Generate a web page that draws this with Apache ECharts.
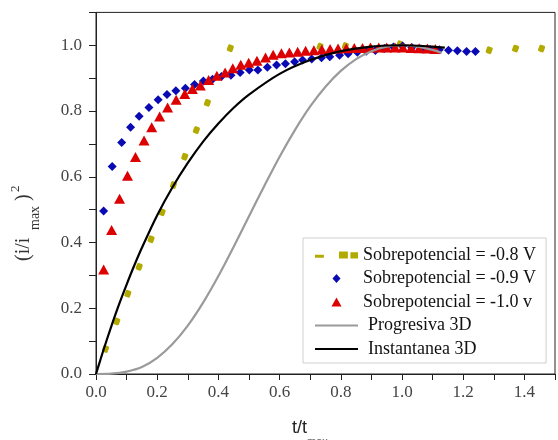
<!DOCTYPE html>
<html><head><meta charset="utf-8">
<script src="https://cdn.jsdelivr.net/npm/echarts@6/dist/echarts.min.js"></script>
<style>html,body{margin:0;padding:0;background:#fff}#c{width:558px;height:440px}</style>
</head><body><div id="c"></div>
<script>
// ---- data ----
const seriesNames = ['Sobrepotencial = -0.8 V', 'Sobrepotencial = -0.9 V', 'Sobrepotencial = -1.0 v', 'Progresiva 3D', 'Instantanea 3D'];
const xTickLabels = ['0.0','0.2','0.4','0.6','0.8','1.0','1.2','1.4'];
const yTickLabels = ['0.0','0.2','0.4','0.6','0.8','1.0'];

const sobre08 = [[0.031,0.076],[0.068,0.160],[0.104,0.244],[0.141,0.326],[0.180,0.410],[0.216,0.492],[0.253,0.575],[0.290,0.661],[0.328,0.742],[0.364,0.825],[0.439,0.991],[0.732,0.996],[0.815,0.998],[0.993,1.003],[1.285,0.985],[1.371,0.990],[1.456,0.990]];

const sobre09 = [[0.025,0.496],[0.053,0.631],[0.084,0.704],[0.113,0.751],[0.141,0.784],[0.173,0.811],[0.203,0.834],[0.232,0.850],[0.261,0.862],[0.292,0.869],[0.322,0.881],[0.351,0.891],[0.381,0.897],[0.410,0.905],[0.441,0.909],[0.471,0.917],[0.501,0.925],[0.529,0.925],[0.560,0.933],[0.590,0.940],[0.619,0.944],[0.649,0.950],[0.675,0.955],[0.705,0.958],[0.737,0.962],[0.764,0.965],[0.796,0.970],[0.824,0.974],[0.854,0.979],[0.883,0.982],[0.913,0.984],[0.943,0.990],[0.972,0.995],[1.002,0.998],[1.032,0.993],[1.062,0.989],[1.092,0.987],[1.122,0.986],[1.152,0.985],[1.181,0.983],[1.211,0.981],[1.240,0.981]];

const sobre10 = [[0.025,0.318],[0.051,0.438],[0.077,0.533],[0.103,0.603],[0.129,0.660],[0.157,0.710],[0.182,0.751],[0.208,0.783],[0.234,0.811],[0.262,0.834],[0.290,0.852],[0.315,0.867],[0.341,0.878],[0.368,0.894],[0.395,0.907],[0.422,0.917],[0.447,0.930],[0.473,0.941],[0.499,0.947],[0.526,0.953],[0.554,0.963],[0.579,0.971],[0.606,0.976],[0.632,0.978],[0.659,0.980],[0.685,0.983],[0.712,0.985],[0.738,0.987],[0.765,0.989],[0.791,0.990],[0.818,0.991],[0.844,0.992],[0.871,0.992],[0.897,0.993],[0.924,0.993],[0.950,0.993],[0.977,0.993],[1.003,0.993],[1.030,0.992],[1.056,0.991],[1.083,0.990],[1.109,0.989]];

const progresiva = [[0,0],[0.05,0.001],[0.10,0.007],[0.15,0.021],[0.20,0.049],[0.25,0.091],[0.30,0.147],[0.35,0.217],[0.40,0.298],[0.45,0.387],[0.50,0.480],[0.55,0.572],[0.60,0.661],[0.65,0.742],[0.70,0.814],[0.75,0.874],[0.80,0.922],[0.85,0.958],[0.90,0.982],[0.95,0.996],[1.00,1.000],[1.05,0.996],[1.10,0.986],[1.13,0.977]];

const instantanea = [[0,0],[0.01,0.030],[0.02,0.060],[0.03,0.089],[0.05,0.145],[0.075,0.211],[0.10,0.272],[0.125,0.330],[0.15,0.384],[0.20,0.483],[0.25,0.568],[0.30,0.642],[0.35,0.707],[0.40,0.762],[0.45,0.810],[0.50,0.850],[0.60,0.913],[0.70,0.955],[0.80,0.982],[0.90,0.996],[1.00,1.000],[1.10,0.996],[1.14,0.993]];

const colors = ['#b2aa00', '#0a0ab4', '#dc0000', '#9a9a9a', '#000000'];

// ---- chart ----
const chart = echarts.init(document.getElementById('c'), null, {renderer: 'canvas'});
const serif = '"Liberation Serif", "Times New Roman", serif';
function tickFmt(list) {
  return function (v) {
    const k = Math.round(v * 10);
    if (k % 2 !== 0) return '';
    const s = (k / 10).toFixed(1);
    return list.indexOf(s) >= 0 ? s : '';
  };
}
const option = {
  animation: false,
  backgroundColor: '#fff',
  grid: {left: 96, top: 12.4, bottom: 66, right: -7.4, show: true, borderColor: '#222', borderWidth: 1, backgroundColor: 'transparent'},
  xAxis: {
    type: 'value', min: 0, max: 1.5, interval: 0.1,
    axisLine: {show: true, lineStyle: {color: '#222', width: 1}},
    axisTick: {show: true, inside: false, length: 6, lineStyle: {color: '#222'}},
    axisLabel: {show: true, margin: 10, fontFamily: serif, fontSize: 17, color: '#444', formatter: tickFmt(xTickLabels), showMaxLabel: true, showMinLabel: true},
    splitLine: {show: false}
  },
  yAxis: {
    type: 'value', min: 0, max: 1.1, interval: 0.1,
    axisLine: {show: true, lineStyle: {color: '#222', width: 1}},
    axisTick: {show: true, inside: false, length: 7, lineStyle: {color: '#222'}},
    axisLabel: {show: true, margin: 14, fontFamily: serif, fontSize: 17, color: '#444', formatter: tickFmt(yTickLabels)},
    splitLine: {show: false}
  },
  legend: {
    orient: 'vertical', left: 303, top: 238, padding: [8, 10, 5, 12], itemGap: 5.5,
    itemWidth: 43, itemHeight: 9, symbolKeepAspect: true,
    backgroundColor: '#fff', borderColor: '#cfcfcf', borderWidth: 1, borderRadius: 0,
    textStyle: {fontFamily: serif, fontSize: 18, color: '#111', lineHeight: 18},
    data: [
      {name: seriesNames[0], icon: 'path://M0,3.5h7v2.5h-7z M19,1h7v5.5h-7z M28,1.5h6v5h-6z'},
      {name: seriesNames[1], icon: 'path://M4,0L8,4.5L4,9L0,4.5z'},
      {name: seriesNames[2], icon: 'path://M5,0L10,9L0,9z'},
      {name: seriesNames[3], icon: 'path://M0,0h43v2.2h-43z', textStyle: {padding: [0, 0, 0, 5]}},
      {name: seriesNames[4], icon: 'path://M0,0h43v2.2h-43z', textStyle: {padding: [0, 0, 0, 5]}}
    ]
  },
  series: [
    {name: seriesNames[0], type: 'scatter', data: sobre08, symbol: 'roundRect', symbolSize: [6, 7], symbolRotate: -20,
     itemStyle: {color: colors[0], opacity: 1}, z: 2},
    {name: seriesNames[1], type: 'scatter', data: sobre09, symbol: 'diamond', symbolSize: 9,
     itemStyle: {color: colors[1], opacity: 1}, z: 3},
    {name: seriesNames[2], type: 'scatter', data: sobre10, symbol: 'triangle', symbolSize: [11, 10],
     itemStyle: {color: colors[2], opacity: 1}, z: 4},
    {name: seriesNames[3], type: 'line', data: progresiva, symbol: 'none', showSymbol: false, smooth: 0.3,
     lineStyle: {color: colors[3], width: 2.2}, itemStyle: {color: colors[3]}, z: 5},
    {name: seriesNames[4], type: 'line', data: instantanea, symbol: 'none', showSymbol: false, smooth: 0.3,
     lineStyle: {color: colors[4], width: 2.2}, itemStyle: {color: colors[4]}, z: 6}
  ],
  graphic: [
    {type: 'text', x: 24, y: 261, rotation: Math.PI / 2, style: {text: '(i/i', fontFamily: serif, fontSize: 20, fill: '#333', align: 'left', verticalAlign: 'middle'}},
    {type: 'text', x: 35, y: 230, rotation: Math.PI / 2, style: {text: 'max', fontFamily: serif, fontSize: 14, fill: '#333', align: 'left', verticalAlign: 'middle'}},
    {type: 'text', x: 24, y: 201, rotation: Math.PI / 2, style: {text: ')', fontFamily: serif, fontSize: 20, fill: '#333', align: 'left', verticalAlign: 'middle'}},
    {type: 'text', x: 15.5, y: 192, rotation: Math.PI / 2, style: {text: '2', fontFamily: serif, fontSize: 13, fill: '#333', align: 'left', verticalAlign: 'middle'}},
    {type: 'text', x: 307, y: 428, style: {text: 't/t', fontFamily: '"Liberation Sans", Arial, sans-serif', fontSize: 18, fill: '#222', align: 'right', verticalAlign: 'middle'}},
    {type: 'text', x: 307, y: 442, style: {text: 'max', fontFamily: '"Liberation Sans", Arial, sans-serif', fontSize: 11, fill: '#666', align: 'left', verticalAlign: 'middle'}}
  ]
};
chart.setOption(option);
</script>
</body></html>
